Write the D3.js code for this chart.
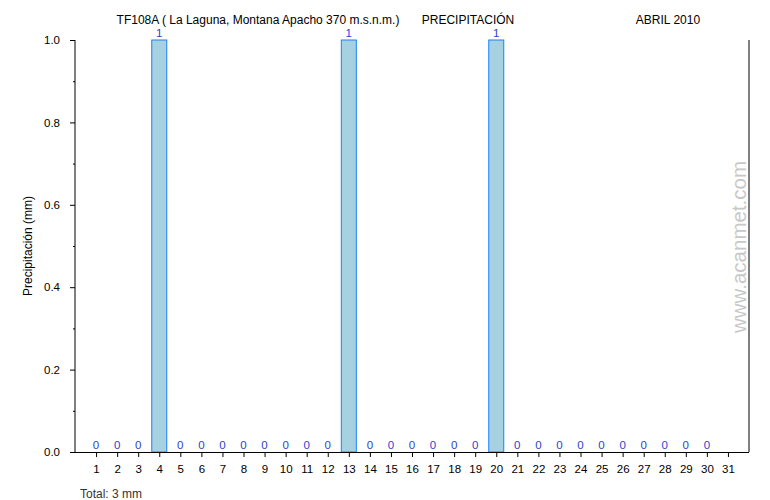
<!DOCTYPE html>
<html><head><meta charset="utf-8">
<script src="https://cdn.jsdelivr.net/npm/d3@7"></script>
<style>body{margin:0;background:#fff}svg{display:block}text{font-family:"Liberation Sans",Arial,sans-serif}</style>
</head><body><svg id="c" width="770" height="500"></svg>
<script>
const days = d3.range(1, 32);
const values = [0,0,0,1,0,0,0,0,0,0,0,0,1,0,0,0,0,0,0,1,0,0,0,0,0,0,0,0,0,0,null];
const yTicks = [0, 0.2, 0.4, 0.6, 0.8, 1.0];
const yMinor = [0.1, 0.3, 0.5, 0.7, 0.9];
const titleStation = "TF108A ( La Laguna, Montana Apacho 370 m.s.n.m.)";
const titleVar = "PRECIPITACIÓN";
const titleDate = "ABRIL 2010";
const totalText = "Total: 3 mm";

const svg = d3.select("#c");
const L = 75, R = 749, T = 40, B = 452;
const x = d3.scaleLinear().domain([0, 32]).range([L, R]);
const y = d3.scaleLinear().domain([0, 1]).range([B, T]);
const bw = 15;

svg.selectAll("rect.bar").data(days.filter((d,i)=>values[i]>0)).join("rect")
  .attr("x", d => x(d) - bw/2).attr("y", d => y(values[d-1]))
  .attr("width", bw).attr("height", d => y(0) - y(values[d-1]))
  .attr("fill", "#a6d1e0").attr("stroke", "#1a80ff").attr("stroke-width", 1);

svg.selectAll("text.val").data(days.filter((d,i)=>values[i]!==null)).join("text")
  .attr("x", d => x(d)).attr("y", d => y(values[d-1]) - 3)
  .attr("text-anchor", "middle").attr("font-size", 11.5).attr("fill", "#2b3fd6")
  .text(d => values[d-1]);

svg.append("g").attr("transform", `translate(${L},0)`)
  .call(d3.axisLeft(y).tickValues(yTicks).tickFormat(d3.format(".1f")).tickSize(5).tickPadding(10));
svg.append("g").attr("transform", `translate(${L},0)`)
  .call(d3.axisLeft(y).tickValues(yMinor).tickFormat("").tickSize(2));
svg.append("g").attr("transform", `translate(0,${B})`)
  .call(d3.axisBottom(x).tickValues(days).tickFormat(d3.format("d")).tickSize(5).tickPadding(8));
svg.selectAll(".domain").remove();
svg.selectAll(".tick line").attr("stroke", "#000");
svg.selectAll(".tick text").attr("font-size", 11.5).attr("fill", "#000")
  .attr("font-family", '"Liberation Sans",Arial,sans-serif');
svg.append("line").attr("x1", L).attr("x2", L).attr("y1", T).attr("y2", B).attr("stroke", "#000");
svg.append("line").attr("x1", L - 5).attr("x2", R).attr("y1", B + 0.5).attr("y2", B + 0.5).attr("stroke", "#000");
svg.append("line").attr("x1", R).attr("x2", R).attr("y1", T).attr("y2", B).attr("stroke", "#000");

svg.append("text").attr("x", 258).attr("y", 24).attr("text-anchor", "middle").attr("font-size", 12).text(titleStation);
svg.append("text").attr("x", 468).attr("y", 24).attr("text-anchor", "middle").attr("font-size", 12).text(titleVar);
svg.append("text").attr("x", 668).attr("y", 24).attr("text-anchor", "middle").attr("font-size", 12).text(titleDate);

svg.append("text").attr("transform", "translate(32,246) rotate(-90)").attr("text-anchor", "middle")
  .attr("font-size", 12).text("Precipitación (mm)");
svg.append("text").attr("x", 80).attr("y", 498).attr("font-size", 12).attr("fill", "#333").text(totalText);
svg.append("text").attr("transform", "translate(746,247) rotate(-90)").attr("text-anchor", "middle")
  .attr("font-size", 20.5).attr("fill", "#c8c8c8").text("www.acanmet.com");
</script></body></html>
